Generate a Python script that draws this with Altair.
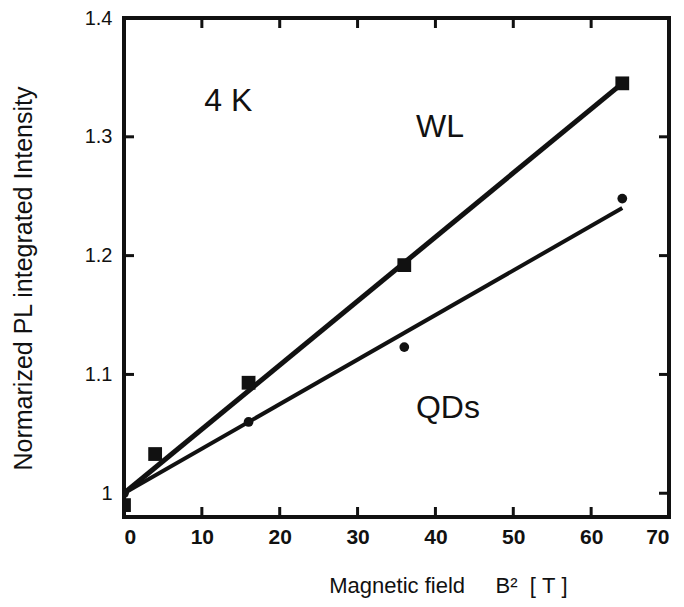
import altair as alt
import pandas as pd

# Measured points: normalized PL integrated intensity vs B^2 at 4 K
wl_b2 = [0, 4, 16, 36, 64]
wl_intensity = [0.99, 1.033, 1.093, 1.192, 1.345]
qd_b2 = [0, 16, 36, 64]
qd_intensity = [1.0, 1.06, 1.123, 1.248]

# Linear fits drawn through the data
fit_b2 = [0, 64]
wl_fit = [1.0, 1.345]
qd_fit = [1.0, 1.24]

# Axis ticks and labels
x_tick_values = [0, 10, 20, 30, 40, 50, 60, 70]
y_tick_values = [1.0, 1.1, 1.2, 1.3, 1.4]
x_inner_ticks = [10, 20, 30, 40, 50, 60]
y_left_ticks = [1.1, 1.2, 1.3]
y_right_ticks = [1.0, 1.1, 1.2, 1.3]

# Text annotations
note_text = ["4 K", "WL", "QDs"]
note_b2 = [13.4, 40.6, 41.6]
note_intensity = [1.330, 1.308, 1.072]

FONT = "Liberation Sans"
NB = "\u00a0"
INK = "#111111"
W, H = 545, 499
TICK = 10

xs = alt.Scale(domain=[0, 70], nice=False, zero=False)
ys = alt.Scale(domain=[0.98, 1.4], nice=False, zero=False)

xa = alt.Axis(
    values=x_tick_values,
    title="Magnetic field" + NB * 5 + "B²" + NB * 2 + "[" + NB + "T" + NB + "]",
    domain=False, ticks=False, grid=False,
    labelFont=FONT, labelFontSize=21, labelFontWeight="bold",
    labelColor=INK, labelPadding=9,
    titleFont=FONT, titleFontSize=22, titleFontWeight="normal",
    titleColor=INK, titleX=324, titleY=75, titleBaseline="alphabetic",
    titleAlign="center",
)
ya = alt.Axis(
    values=y_tick_values, format="~g",
    title="Normarized PL integrated Intensity",
    domain=False, ticks=False, grid=False,
    labelFont=FONT, labelFontSize=20, labelColor=INK, labelPadding=12,
    titleFont=FONT, titleFontSize=25, titleFontWeight="normal",
    titleColor=INK, titleX=-88, titleY=260, titleAlign="center",
)

X = alt.X("b2:Q", scale=xs, axis=xa)
Y = alt.Y("intensity:Q", scale=ys, axis=ya)

wl_df = pd.DataFrame({"b2": wl_b2, "intensity": wl_intensity})
qd_df = pd.DataFrame({"b2": qd_b2, "intensity": qd_intensity})
wl_fit_df = pd.DataFrame({"b2": fit_b2, "intensity": wl_fit})
qd_fit_df = pd.DataFrame({"b2": fit_b2, "intensity": qd_fit})
notes_df = pd.DataFrame({"b2": note_b2, "intensity": note_intensity, "text": note_text})

wl_line = alt.Chart(wl_fit_df).mark_line(color=INK, strokeWidth=5).encode(x=X, y=Y)
qd_line = alt.Chart(qd_fit_df).mark_line(color=INK, strokeWidth=4).encode(x=X, y=Y)

wl_pts = alt.Chart(wl_df).mark_point(
    shape="square", filled=True, size=190, color=INK, opacity=1, clip=True
).encode(x=X, y=Y)
qd_pts = alt.Chart(qd_df).mark_point(
    shape="circle", filled=True, size=95, color=INK, opacity=1, clip=True
).encode(x=X, y=Y)

notes = alt.Chart(notes_df).mark_text(
    font=FONT, fontSize=32, color=INK, align="center", baseline="middle"
).encode(x=X, y=Y, text="text:N")

# Inward-pointing ticks on all four sides of the frame
bottom_ticks = alt.Chart(pd.DataFrame({"b2": x_inner_ticks})).mark_rule(
    color=INK, strokeWidth=3
).encode(x=X, y=alt.value(H - TICK), y2=alt.value(H))
top_ticks = alt.Chart(pd.DataFrame({"b2": x_inner_ticks})).mark_rule(
    color=INK, strokeWidth=3
).encode(x=X, y=alt.value(0), y2=alt.value(TICK))
left_ticks = alt.Chart(pd.DataFrame({"intensity": y_left_ticks})).mark_rule(
    color=INK, strokeWidth=3
).encode(y=Y, x=alt.value(0), x2=alt.value(TICK))
right_ticks = alt.Chart(pd.DataFrame({"intensity": y_right_ticks})).mark_rule(
    color=INK, strokeWidth=3
).encode(y=Y, x=alt.value(W - TICK), x2=alt.value(W))

chart = (
    alt.layer(
        wl_line, qd_line, wl_pts, qd_pts, notes,
        bottom_ticks, top_ticks, left_ticks, right_ticks,
    )
    .properties(
        width=W, height=H,
        autosize=alt.AutoSizeParams(type="none"),
        padding={"left": 124, "top": 18, "right": 15, "bottom": 90},
        background="white",
    )
    .configure_view(stroke=INK, strokeWidth=4)
)

chart.save("out.html", embed_options={"renderer": "svg", "actions": False})
